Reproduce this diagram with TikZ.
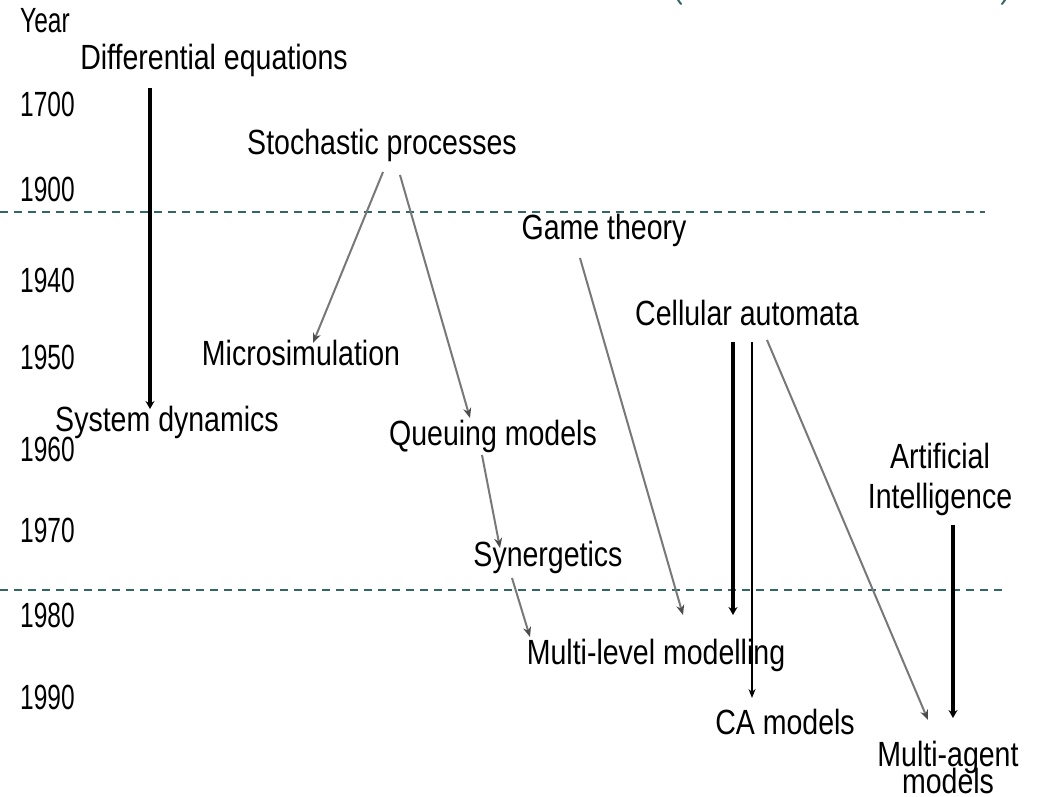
\documentclass[tikz,border=0pt]{standalone}
\usepackage{fontspec}
\setmainfont{Liberation Sans}[FakeStretch=0.815]
\newfontfamily\yearfont{Liberation Sans}[FakeStretch=0.7]
\usetikzlibrary{arrows.meta}
\definecolor{guide}{RGB}{51,102,102}
\definecolor{lineage}{RGB}{120,120,120}
\begin{document}
\begin{tikzpicture}[x=1pt,y=-1pt,
  lbl/.style={inner sep=0pt,font=\fontsize{35}{40}\selectfont,align=center},
  yr/.style={inner sep=0pt,font=\yearfont\fontsize{35}{40}\selectfont,anchor=west},
  era/.style={guide,line width=1.4pt,dash pattern=on 8pt off 6pt},
  heavy/.style={line width=4pt,-{Stealth[length=8pt,width=9pt]}},
  slim/.style={line width=2pt,-{Stealth[length=9pt,width=7pt]}},
  faint/.style={lineage,line width=2pt,-{Stealth[length=10pt,width=8pt,black!70]}},
  paren/.style={guide,line width=2pt,line cap=round}]
\useasboundingbox (0,0) rectangle (1037,796);
\fill[white] (0,0) rectangle (1037,796);

% era separators
\draw[era] (0,212) -- (985,212);
\draw[era] (0,590) -- (1005,590);

% clipped bracket ends at the top edge
\draw[paren] (678,0) .. controls (679,2) .. (681,4);
\draw[paren] (1005,0) .. controls (1004,2) .. (1002,4);

% year axis
\node[yr] (yhead) at (20,21) {Year};
\node[yr] (y1700) at (20,104) {1700};
\node[yr] (y1900) at (20,189) {1900};
\node[yr] (y1940) at (20,280) {1940};
\node[yr] (y1950) at (20,357) {1950};
\node[yr] (y1960) at (20,449) {1960};
\node[yr] (y1970) at (20,530) {1970};
\node[yr] (y1980) at (20,615) {1980};
\node[yr] (y1990) at (20,697) {1990};

% methods
\node[lbl] (diffeq) at (214,60) {Differential equations};
\node[lbl] (sysdyn) at (167,422) {System dynamics};
\node[lbl] (stoch) at (382,145) {Stochastic processes};
\node[lbl] (micro) at (301,353) {Microsimulation};
\node[lbl] (queue) at (493,436) {Queuing models};
\node[lbl] (syn) at (548,557) {Synergetics};
\node[lbl] (mlm) at (656,655) {Multi-level modelling};
\node[lbl] (game) at (604,230) {Game theory};
\node[lbl] (cell) at (747,313) {Cellular automata};
\node[lbl] (ca) at (785,722) {CA models};
\node[lbl] (ai) at (940,479) {Artificial\\Intelligence};
\node[lbl] (mam) at (948,767) {Multi-agent\\[-13pt]models};

% lineages
\draw[heavy] ([shift={(-64,28)}]diffeq.center) -- ([shift={(-17,-13)}]sysdyn.center);
\draw[faint] ([shift={(1,27)}]stoch.center) -- ([shift={(12,-10)}]micro.center);
\draw[faint] ([shift={(18,30)}]stoch.center) -- ([shift={(-23,-18)}]queue.center);
\draw[faint] ([shift={(-11,19)}]queue.center) -- ([shift={(-48,-9)}]syn.center);
\draw[faint] ([shift={(-36,21)}]syn.center) -- ([shift={(-126,-18)}]mlm.center);
\draw[faint] ([shift={(-24,28)}]game.center) -- ([shift={(27,-40)}]mlm.center);
\draw[heavy] ([shift={(-14,29)}]cell.center) -- ([shift={(77,-40)}]mlm.center);
\draw[slim] ([shift={(5,29)}]cell.center) -- ([shift={(-33,-24)}]ca.center);
\draw[faint] ([shift={(20,27)}]cell.center) -- ([shift={(-20,-47)}]mam.center);
\draw[heavy] ([shift={(13,46)}]ai.center) -- ([shift={(5,-49)}]mam.center);
\end{tikzpicture}
\end{document}
